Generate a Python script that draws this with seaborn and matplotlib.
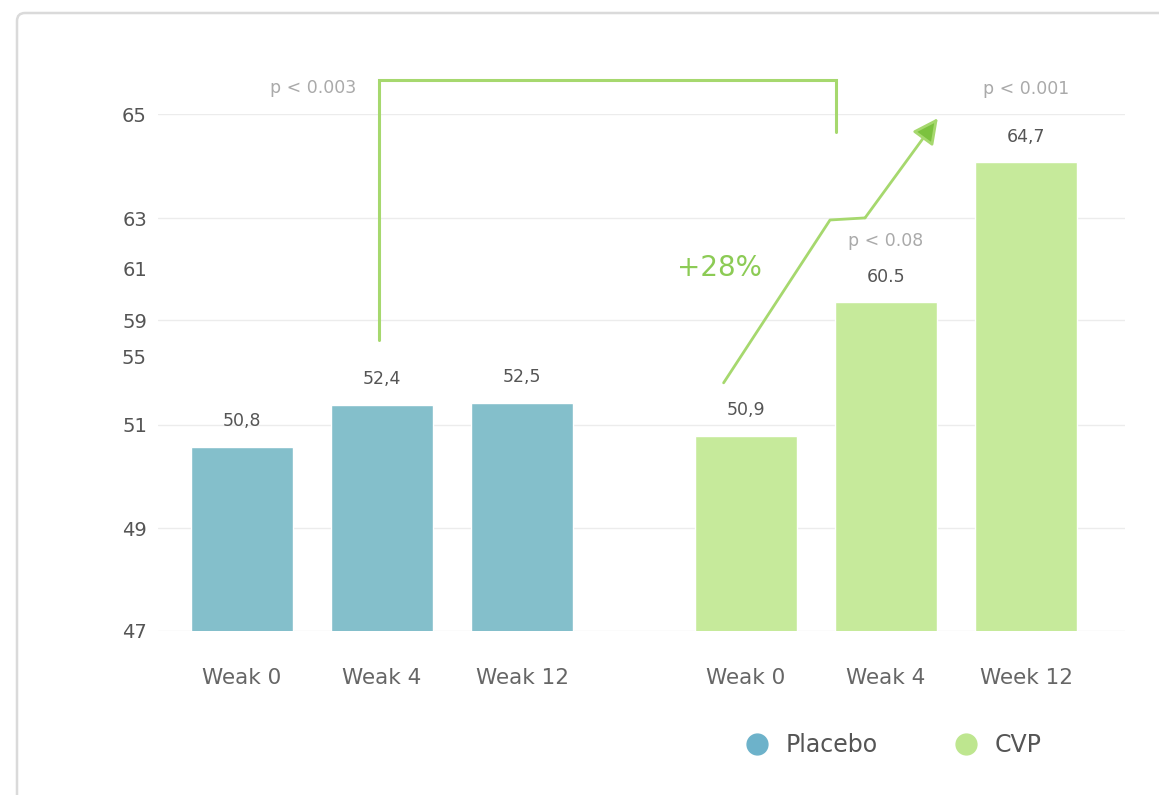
import numpy as np
import pandas as pd
import matplotlib
matplotlib.use("Agg")
import matplotlib.pyplot as plt
import matplotlib.transforms as mtransforms
from matplotlib.lines import Line2D
from matplotlib.patches import FancyBboxPatch
import seaborn as sns

# ---- data -------------------------------------------------------------
GROUPS = ["Placebo", "CVP"]
PLACEBO_WEEKS = ["Weak 0", "Weak 4", "Weak 12"]
CVP_WEEKS = ["Weak 0", "Weak 4", "Week 12"]
PLACEBO_VALUES = [50.8, 52.4, 52.5]
CVP_VALUES = [50.9, 60.5, 64.7]
PLACEBO_DECIMAL = [",", ",", ","]
CVP_DECIMAL = [",", ".", ","]
P_VALUES = ["p < 0.003", "p < 0.08", "p < 0.001"]
CHANGE_LABEL = "+28%"
Y_TICKS = [47, 49, 51, 55, 59, 61, 63, 65]
GRID_AT = [47, 49, 51, 59, 63, 65]

# ---- non-uniform value axis (breakpoint -> height above baseline) -----
AXIS_BREAKS = [47, 49, 50.5, 51, 52, 55, 59, 60.7, 61, 63, 64.8, 65]
AXIS_HEIGHTS = [0, 103, 151, 206, 219, 275, 311, 331, 362, 413, 472, 517]


def _piecewise(x, xp, fp):
    x = np.asarray(x, dtype=float)
    y = np.interp(x, xp, fp)
    s0 = (fp[1] - fp[0]) / (xp[1] - xp[0])
    s1 = (fp[-1] - fp[-2]) / (xp[-1] - xp[-2])
    y = np.where(x < xp[0], fp[0] + (x - xp[0]) * s0, y)
    y = np.where(x > xp[-1], fp[-1] + (x - xp[-1]) * s1, y)
    return y


def forward(v):
    return _piecewise(v, AXIS_BREAKS, AXIS_HEIGHTS)


def inverse(u):
    return _piecewise(u, AXIS_HEIGHTS, AXIS_BREAKS)


# ---- styling ----------------------------------------------------------
BAR_COLORS = {"Placebo": "#84BFCB", "CVP": "#C6EA9B"}
DOT_COLORS = {"Placebo": "#6DB2CA", "CVP": "#BEE68F"}
LINE_GREEN = "#A6D86E"
HEAD_GREEN = "#7CC23F"
TEXT_GREEN = "#8CCB55"
GROUP_STRIDE = 3.6

sns.set_style("white")
plt.rcParams["font.family"] = ["DejaVu Sans"]

W, H = 1159, 795
fig = plt.figure(figsize=(W / 100, H / 100), dpi=100)

# card outline behind the chart
bg = fig.add_axes([0, 0, 1, 1], zorder=-5)
bg.set_xlim(0, W)
bg.set_ylim(H, 0)
bg.axis("off")
bg.add_patch(FancyBboxPatch((17, 13), 1400, 1000,
                            boxstyle="round,pad=0,rounding_size=8",
                            fc="white", ec="#DADADA", lw=1.8))

ax = fig.add_axes([158 / W, (H - 631) / H, 967 / W, 517 / H])
ax.patch.set_alpha(0)

rows = []
for g, (weeks, vals) in enumerate([(PLACEBO_WEEKS, PLACEBO_VALUES),
                                   (CVP_WEEKS, CVP_VALUES)]):
    for i, (wk, v) in enumerate(zip(weeks, vals)):
        rows.append({"group": GROUPS[g], "week": wk, "value": v,
                     "pos": i + g * GROUP_STRIDE})
df = pd.DataFrame(rows)

ax.set_yscale("function", functions=(forward, inverse))
sns.barplot(data=df, x="pos", y="value", hue="group", palette=BAR_COLORS,
            native_scale=True, dodge=False, width=0.73, saturation=1,
            legend=False, ax=ax, zorder=3)

ax.set_ylim(47, 65)
ax.set_xlim(-0.6, 6.307)
ax.set_yticks(Y_TICKS)
ax.set_yticklabels([str(t) for t in Y_TICKS])
ax.set_xticks(df["pos"], labels=df["week"])
ax.set_xlabel("")
ax.set_ylabel("")
ax.tick_params(axis="x", length=0, pad=27, labelsize=15.5, labelcolor="#666666")
ax.tick_params(axis="y", length=0, pad=8, labelsize=14, labelcolor="#555555")
for s in ax.spines.values():
    s.set_visible(False)
ax.grid(False)
for v in GRID_AT:
    ax.axhline(v, color="#ECECEC", lw=1.0, zorder=1)

# value labels on the bars
for cont, vals, decs in zip(ax.containers, [PLACEBO_VALUES, CVP_VALUES],
                            [PLACEBO_DECIMAL, CVP_DECIMAL]):
    labels = [f"{v:.1f}".replace(".", d) for v, d in zip(vals, decs)]
    ax.bar_label(cont, labels=labels, padding=12, fontsize=12.5, color="#555555")

# significance bracket, trend arrow and p-values
tr = mtransforms.blended_transform_factory(ax.transData, ax.transAxes)
ax.plot([0.98, 0.98, 4.24, 4.24], [0.563, 1.066, 1.066, 0.965], transform=tr,
        color=LINE_GREEN, lw=2.2, clip_on=False, solid_joinstyle="miter", zorder=4)
ax.plot([3.44, 4.2, 4.45], [0.480, 0.795, 0.799], transform=tr,
        color=LINE_GREEN, lw=2.0, clip_on=False, zorder=4)
ax.annotate("", xy=(4.97, 0.992), xycoords=tr, xytext=(4.45, 0.799), textcoords=tr,
            arrowprops=dict(arrowstyle="-|>,head_length=0.7,head_width=0.35",
                            mutation_scale=22, lw=2.0, ec=LINE_GREEN, fc=HEAD_GREEN,
                            shrinkA=0, shrinkB=0), annotation_clip=False, zorder=5)

ax.text(3.41, 0.702, CHANGE_LABEL, transform=tr, ha="center", va="center",
        fontsize=20, color=TEXT_GREEN)
for (x, y), txt in zip([(0.51, 1.050), (4.6, 0.754), (5.6, 1.048)], P_VALUES):
    ax.text(x, y, txt, transform=tr, ha="center", va="center",
            fontsize=12.5, color="#AAAAAA", clip_on=False)

# legend with round markers
handles = [Line2D([], [], marker="o", ls="", markersize=15,
                  markerfacecolor=DOT_COLORS[g], markeredgecolor=DOT_COLORS[g])
           for g in GROUPS]
fig.legend(handles, GROUPS, loc="center left",
           bbox_to_anchor=(743 / W, 1 - 745 / H), ncol=2, frameon=False,
           fontsize=17, handlelength=1.2, handletextpad=0.59,
           columnspacing=3.17, borderpad=0, borderaxespad=0,
           labelcolor="#555555")

fig.savefig("out.png", dpi=100, facecolor="white")
